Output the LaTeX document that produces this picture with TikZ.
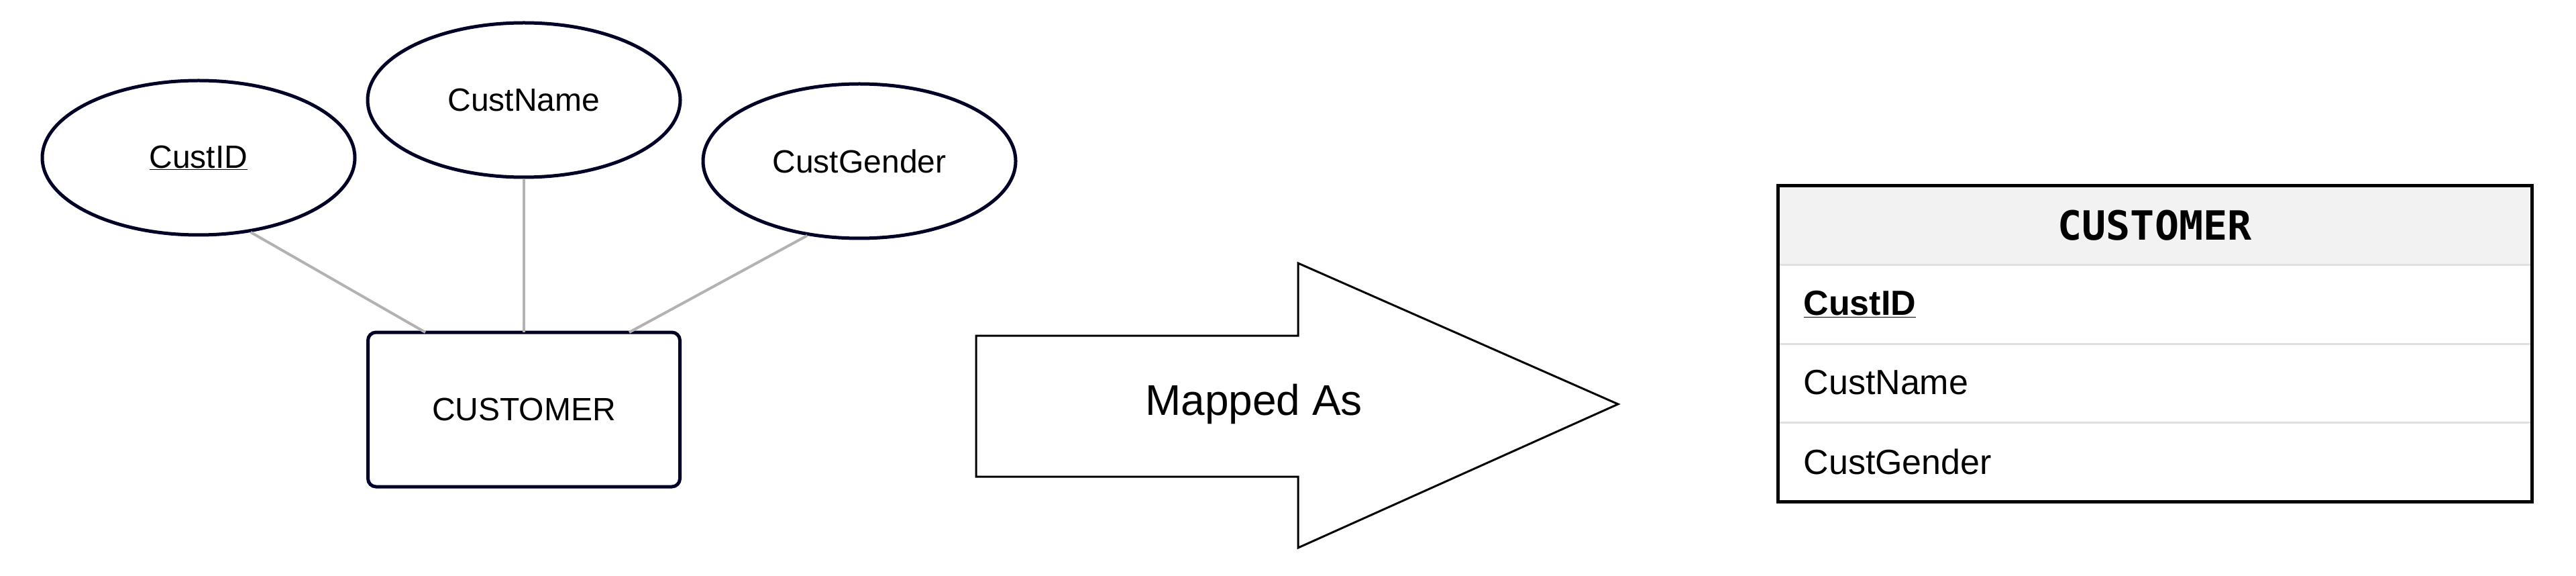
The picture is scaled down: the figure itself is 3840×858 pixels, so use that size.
\documentclass[tikz,border=0pt]{standalone}
\usepackage{fontspec}
\setmainfont{Liberation Sans}
\newfontfamily\monob{DejaVu Sans Mono}
\usetikzlibrary{shapes.geometric}
\begin{document}
\begin{tikzpicture}[x=1pt,y=-1pt,
  attr/.style={draw=black!85!blue,line width=5pt,ellipse,minimum width=466pt,minimum height=230pt,font=\fontsize{48}{56}\selectfont,fill=white},
  conn/.style={draw=black!30,line width=4pt},
  row/.style={font=\fontsize{52}{60}\selectfont,anchor=west}]
\useasboundingbox (0,0) rectangle (3840,858);
\node[attr] (id) at (296,235) {\underline{CustID}};
\node[attr] (nm) at (781,149) {CustName};
\node[attr] (gd) at (1281,240) {CustGender};
\node[draw=black!85!blue,line width=5pt,rounded corners=12pt,minimum width=465pt,minimum height=230pt,font=\fontsize{48}{56}\selectfont] (ent) at (781,610) {CUSTOMER};
\coordinate (e1) at (634,495);
\coordinate (e2) at (781,495);
\coordinate (e3) at (938,495);
\draw[conn] (id.-55) -- (e1);
\draw[conn] (nm.south) -- (e2);
\draw[conn] (gd.-125) -- (e3);
\draw[line width=3pt] (1455,500) -- (1935,500) -- (1935,392) -- (2412,602) -- (1935,816) -- (1935,710) -- (1455,710) -- cycle;
\node[font=\fontsize{64}{72}\selectfont] (lab) at (1869,602) {Mapped As};
\fill[black!5] (2650,277) rectangle (3774,394);
\draw[black!12,line width=3pt] (2650,394) -- (3774,394) (2650,512) -- (3774,512) (2650,629) -- (3774,629);
\draw[line width=5pt] (2650,277) rectangle (3774,747);
\node[font=\monob\bfseries\fontsize{60}{68}\selectfont] (hd) at (3212,336) {CUSTOMER};
\node[row] (r1) at (2685,453) {\bfseries\underline{CustID}};
\node[row] (r2) at (2685,570) {CustName};
\node[row] (r3) at (2685,688) {CustGender};
\end{tikzpicture}
\end{document}
